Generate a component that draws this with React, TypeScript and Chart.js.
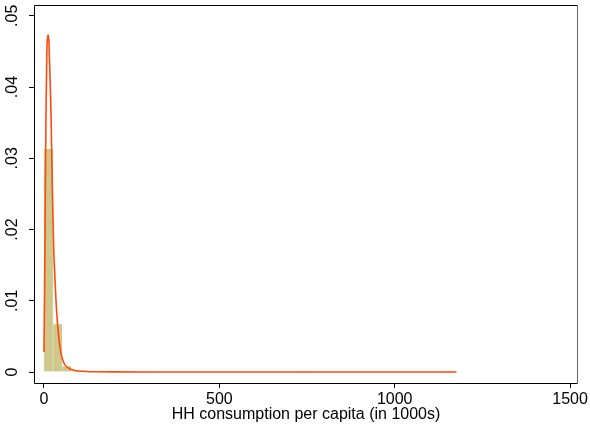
import React, { useEffect, useRef } from "react";
import { Chart, registerables } from "chart.js";

Chart.register(...registerables);

// Histogram: bin width and density heights per bin (starting at 0)
const binWidth = 26;
const binHeights = [
  0.0313, 0.0067, 0.0008, 0.00018, 0.00008, 0.00005, 0.00004, 0.00003, 0.00003, 0.00002,
  0.00002, 0.00002, 0, 0, 0, 0, 0, 0, 0, 0,
  0, 0, 0, 0, 0, 0, 0, 0, 0.00002, 0,
  0, 0, 0, 0, 0, 0, 0, 0, 0, 0,
  0, 0, 0, 0, 0.00002,
];

// Kernel density estimate
const kdeX = [0, 2, 4, 6, 8, 10, 12, 14, 16, 18, 20, 22, 24, 26, 28, 30, 34, 38, 42, 46, 50, 55, 60, 70, 80, 100, 120, 150, 200, 300, 500, 750, 1000, 1176];
const kdeY = [0.0028, 0.012, 0.026, 0.037, 0.0445, 0.0468, 0.0473, 0.0465, 0.0435, 0.04, 0.0365, 0.031, 0.0255, 0.021, 0.017, 0.0145, 0.0103, 0.0072, 0.005, 0.0034, 0.0023, 0.0015, 0.001, 0.00055, 0.00032, 0.00014, 0.00008, 0.00004, 0.00002, 0.00001, 0.000005, 0.000004, 0.000002, 0.000001];

const xTicks = [0, 500, 1000, 1500];
const yTicks = [0, 0.01, 0.02, 0.03, 0.04, 0.05];
const yTickLabels = ["0", ".01", ".02", ".03", ".04", ".05"];
const xTitle = "HH consumption per capita (in 1000s)";

const FONT = "'Liberation Sans', Arial, Helvetica, sans-serif";

export default function App() {
  const ref = useRef<HTMLCanvasElement | null>(null);

  useEffect(() => {
    if (!ref.current) return;

    const framePlugin = {
      id: "frame",
      afterDraw(chart: any) {
        const { ctx, chartArea } = chart;
        const { left, right, top, bottom } = chartArea;
        ctx.save();
        ctx.lineWidth = 1;
        ctx.strokeStyle = "#000";
        ctx.beginPath();
        ctx.moveTo(left + 0.5, top + 0.5);
        ctx.lineTo(right - 0.5, top + 0.5);
        ctx.moveTo(left + 0.5, top + 0.5);
        ctx.lineTo(left + 0.5, bottom + 0.5);
        ctx.lineTo(right - 0.5, bottom + 0.5);
        ctx.stroke();
        ctx.strokeStyle = "#666";
        ctx.beginPath();
        ctx.moveTo(right - 0.5, top + 0.5);
        ctx.lineTo(right - 0.5, bottom + 0.5);
        ctx.stroke();

        // rotated y tick labels
        const ys = chart.scales.y;
        ctx.fillStyle = "#000";
        ctx.font = `16px ${FONT}`;
        ctx.textAlign = "center";
        ctx.textBaseline = "middle";
        yTicks.forEach((v, i) => {
          const py = ys.getPixelForValue(v);
          ctx.save();
          ctx.translate(13, py);
          ctx.rotate(-Math.PI / 2);
          ctx.fillText(yTickLabels[i], 0, 0);
          ctx.restore();
        });
        ctx.restore();
      },
    };

    const barData = binHeights.map((h, i) => ({ x: i * binWidth + binWidth / 2, y: h }));
    const lineData = kdeX.map((x, i) => ({ x, y: kdeY[i] }));

    const chart = new Chart(ref.current, {
      type: "bar",
      data: {
        datasets: [
          {
            type: "line",
            data: lineData,
            borderColor: "#ff4a0a",
            borderWidth: 1.6,
            pointRadius: 0,
            fill: false,
            cubicInterpolationMode: "monotone",
            order: 1,
          } as any,
          {
            type: "bar",
            data: barData,
            backgroundColor: "rgb(206,200,140)",
            borderColor: "rgba(232,229,196,1)",
            borderWidth: { left: 0.6, right: 0.6, top: 0, bottom: 0 },
            borderSkipped: false,
            barPercentage: 1,
            categoryPercentage: 1,
            grouped: false,
            order: 2,
          } as any,
        ],
      },
      options: {
        responsive: false,
        animation: false,
        devicePixelRatio: 1,
        layout: { padding: { top: 5, right: 10, left: 0, bottom: 0 } },
        plugins: { legend: { display: false }, tooltip: { enabled: false } },
        scales: {
          x: {
            type: "linear",
            offset: false,
            min: -28.4,
            max: 1522.7,
            afterBuildTicks: (s: any) => {
              s.ticks = xTicks.map((v) => ({ value: v }));
            },
            afterFit: (s: any) => {
              s.height = 48;
            },
            grid: {
              display: true,
              offset: false,
              drawOnChartArea: false,
              drawTicks: true,
              tickLength: 5,
              color: "#000",
            },
            border: { display: false },
            ticks: {
              color: "#000",
              font: { family: FONT, size: 16 },
              padding: 2,
              maxRotation: 0,
              callback: (v: any) => String(v),
            },
            title: {
              display: true,
              text: xTitle,
              color: "#000",
              font: { family: FONT, size: 16 },
              padding: { top: 0, bottom: 7 },
            },
          },
          y: {
            type: "linear",
            min: -0.00154,
            max: 0.05151,
            afterBuildTicks: (s: any) => {
              s.ticks = yTicks.map((v) => ({ value: v }));
            },
            afterFit: (s: any) => {
              s.width = 34;
            },
            grid: {
              display: true,
              offset: false,
              drawOnChartArea: false,
              drawTicks: true,
              tickLength: 5,
              color: "#000",
            },
            border: { display: false },
            ticks: { display: false },
          },
        },
      },
      plugins: [framePlugin],
    } as any);

    return () => chart.destroy();
  }, []);

  return (
    <div style={{ position: "fixed", left: 0, top: 0, width: 590, height: 431, background: "#fff" }}>
      <canvas ref={ref} width={590} height={431} />
    </div>
  );
}
